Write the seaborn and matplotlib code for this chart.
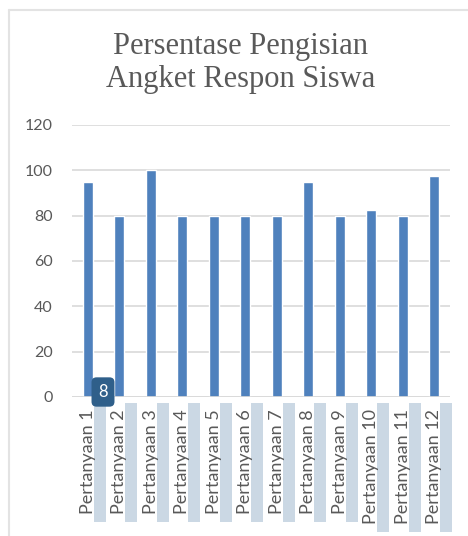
import matplotlib
matplotlib.use("Agg")
import matplotlib.pyplot as plt
import matplotlib.transforms as mtransforms
from matplotlib.patches import Rectangle
from matplotlib.lines import Line2D
import seaborn as sns
import pandas as pd

# data
categories = ["Pertanyaan %d" % i for i in range(1, 13)]
values = [95, 80, 100, 80, 80, 80, 80, 95, 80, 82.5, 80, 97.5]
y_ticks = [0, 20, 40, 60, 80, 100, 120]
title = "Persentase Pengisian\nAngket Respon Siswa"

df = pd.DataFrame({"kategori": categories, "persen": values})

sns.set_theme(style="white")
plt.rcParams["font.family"] = ["Lato", "DejaVu Sans"]

text_color = "#595959"
bar_color = "#4F81BD"
grid_color = "#D9D9D9"

fig = plt.figure(figsize=(4.68, 5.36), dpi=100)
ax = fig.add_axes([72 / 468, 1 - 397 / 536, 378 / 468, 272 / 536])

sns.barplot(data=df, x="kategori", y="persen", color=bar_color, width=0.31,
            saturation=1, ax=ax, zorder=3)

ax.set_ylim(0, 120)
ax.set_yticks(y_ticks)
ax.set_xlim(-0.5, len(categories) - 0.5)
ax.yaxis.grid(True, color=grid_color, linewidth=1.2, zorder=0)
ax.set_xlabel("")
ax.set_ylabel("")
for s in ax.spines.values():
    s.set_visible(False)
ax.axhline(0, color=grid_color, linewidth=1.2, zorder=4)

ax.tick_params(axis="y", length=0, pad=14, labelsize=11.5, labelcolor=text_color)
ax.tick_params(axis="x", length=0, pad=9, labelsize=13, labelcolor=text_color)
for lab in ax.get_xticklabels():
    lab.set_rotation(90)
    lab.set_va("top")
    lab.set_ha("center")

# light highlight strips beside the tick labels
trans = mtransforms.blended_transform_factory(ax.transData, fig.transFigure)
px = 1 / 31.5
for i, name in enumerate(categories):
    bottom_px = 532 if len(name) > 12 else 522
    r = Rectangle((i + 6 * px, 1 - bottom_px / 536), 12 * px, (bottom_px - 403) / 536,
                  transform=trans, facecolor="#CBD8E4", edgecolor="none",
                  clip_on=False, zorder=0)
    fig.add_artist(r)

# title
fig.text(241 / 468, 1 - 63 / 536, title, ha="center", va="center",
         fontsize=22, color=text_color, family=["Liberation Serif"],
         linespacing=1.2)

# frame lines
fig.add_artist(Line2D([9 / 468, 1], [1 - 10 / 536, 1 - 10 / 536],
                      transform=fig.transFigure, color="#E3E3E3", linewidth=1.5))
fig.add_artist(Line2D([9 / 468, 9 / 468], [0, 1 - 10 / 536],
                      transform=fig.transFigure, color="#E3E3E3", linewidth=1.5))

# small badge
fig.text(103 / 468, 1 - 392 / 536, "8", ha="center", va="center", fontsize=12,
         color="white", zorder=10,
         bbox=dict(boxstyle="round,pad=0.4,rounding_size=0.3",
                   facecolor="#2F5F8A", edgecolor="none"))

fig.savefig("out.png", dpi=100)
